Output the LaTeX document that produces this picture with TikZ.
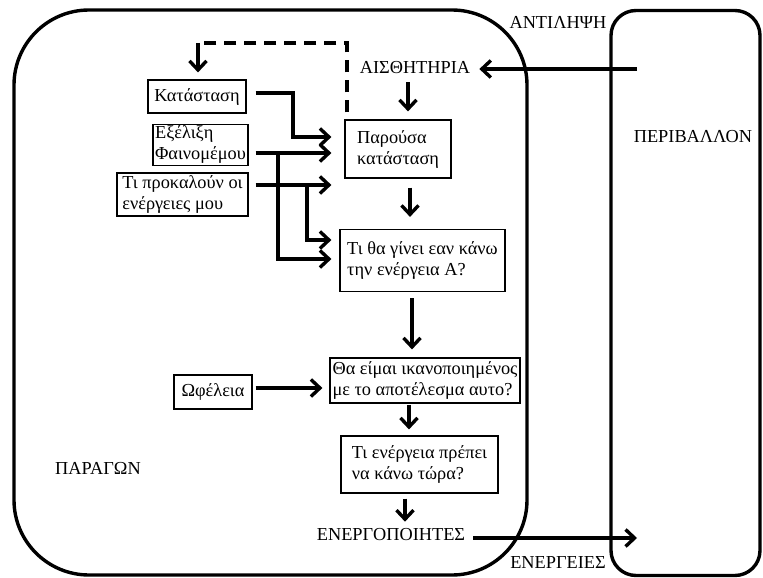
\documentclass[tikz,border=0pt]{standalone}
\usepackage{fontspec}
\setmainfont{Liberation Serif}
\usetikzlibrary{arrows.meta,calc}
\newcommand\fsz{\fontsize{18.3}{21}\selectfont}
\tikzset{
 box/.style={draw, line width=1.2pt, align=left, inner sep=1.5pt, font=\fsz},
 lbl/.style={inner sep=0pt, font=\fsz},
 arr/.style={line width=3.4pt, -{Straight Barb[length=9pt,width=17pt]}},
 dashline/.style={line width=3.4pt, dash pattern=on 12pt off 8pt},
 region/.style={draw, line width=3.4pt},
}
\begin{document}
\begin{tikzpicture}[x=1pt,y=-1pt]
\useasboundingbox (0,0) rectangle (763,578);
% regions
\node[region, rounded corners=75pt, minimum width=513pt, minimum height=565pt] (agent) at (270.5,292.5) {};
\node[region, rounded corners=25pt, minimum width=149pt, minimum height=565pt] (env) at (685.5,293) {};
% labels
\node[lbl] (antil) at (558,22) {ΑΝΤΙΛΗΨΗ};
\node[lbl] (energ) at (558,563) {ΕΝΕΡΓΕΙΕΣ};
\node[lbl] (periv) at (693,137) {ΠΕΡΙΒΑΛΛΟΝ};
\node[lbl] (parag) at (98,468) {ΠΑΡΑΓΩΝ};
\node[lbl] (ais) at (415,68) {ΑΙΣΘΗΤΗΡΙΑ};
\node[lbl] (ene) at (391,535) {ΕΝΕΡΓΟΠΟΙΗΤΕΣ};
% boxes
\node[box, minimum width=98pt, minimum height=33pt] (kat) at (197,96.5) {Κατάσταση};
\node[box, minimum width=95pt, minimum height=40pt] (exe) at (200.5,145) {Εξέλιξη\\Φαινομέμου};
\node[box, minimum width=131pt, minimum height=43pt] (tip) at (182.5,194.5) {Τι προκαλούν οι\\ενέργειες μου};
\node[box, minimum width=106pt, minimum height=58pt] (par) at (398,149) {Παρούσα\\κατάσταση};
\node[box, minimum width=165pt, minimum height=62pt] (ti) at (422.5,260.5) {Τι θα γίνει εαν κάνω\\την ενέργεια Α?};
\node[box, minimum width=190pt, minimum height=45pt] (tha) at (425,380.5) {Θα είμαι ικανοποιημένος\\με το αποτέλεσμα αυτο?};
\node[box, minimum width=157pt, minimum height=57pt] (tie) at (419.5,464.5) {Τι ενέργεια πρέπει\\να κάνω τώρα?};
\node[box, minimum width=78pt, minimum height=34pt] (ofe) at (213,392) {Ωφέλεια};
% coordinates
\coordinate (pin) at (637,69);
\coordinate (pout) at (637,538);
\coordinate (dtop) at (198,43);
\coordinate (b1) at (278,153);
\coordinate (b2) at (307,185);
% perception / action
\draw[arr, shorten >=9pt] (pin) -- (ais.east |- pin);
\draw[arr, shorten <=8pt] (ene.east |- pout) -- (pout);
% vertical chain
\draw[arr, shorten <=8pt, shorten >=8pt] (ais.south -| 408,0) -- (par.north -| 408,0);
\draw[arr, shorten <=9pt, shorten >=12pt] (par.south -| 410,0) -- (ti.north -| 410,0);
\draw[arr, shorten <=6pt, shorten >=8pt] (ti.south -| 412,0) -- (tha.north -| 412,0);
\draw[arr, shorten <=1pt, shorten >=6pt] (tha.south -| 409,0) -- (tie.north -| 409,0);
\draw[arr, shorten <=5pt, shorten >=7pt] (tie.south -| 405,0) -- (ene.north -| 405,0);
% dashed feedback
\draw[dashline, shorten <=7pt] ([xshift=2.5pt]par.north west) |- (dtop);
\draw[arr, shorten >=7pt] (dtop) -- (kat.north -| dtop);
% inputs
\draw[arr, shorten <=9pt, shorten >=13pt] ([yshift=3.5pt]kat.east) -| (293,137) -- (par.west |- 0,137);
\draw[arr, shorten <=7pt, shorten >=13pt] ([yshift=-8pt]exe.east) -- (par.west |- b1);
\draw[arr, shorten >=8pt] (b1) |- (ti.west |- 0,259);
\draw[arr, shorten <=7pt, shorten >=13pt] ([yshift=9.5pt]tip.east) -- (par.west |- b2);
\draw[arr, shorten >=8pt] (b2) |- (ti.west |- 0,240);
\draw[arr, shorten <=3pt, shorten >=7pt] ([yshift=4pt]ofe.east) -- (tha.west |- 0,388);
\end{tikzpicture}
\end{document}
